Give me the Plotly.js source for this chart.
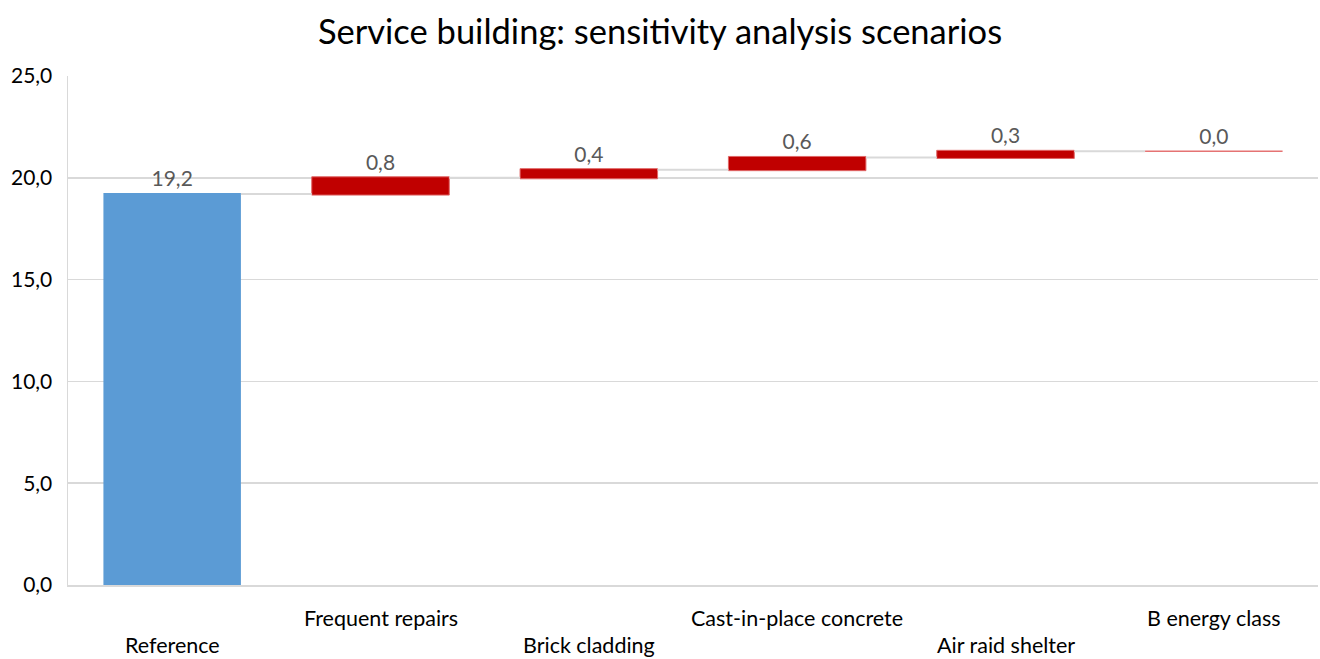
<!DOCTYPE html>
<html>
<head>
<meta charset="utf-8">
<script src="https://cdn.plot.ly/plotly-3.0.1.min.js"></script>
<style>
  html, body { margin: 0; padding: 0; background: #fff; }
  #chart { width: 1320px; height: 659px; }
</style>
</head>
<body>
<div id="chart"></div>
<script>
// Sensitivity scenarios for the service building (waterfall steps)
const categories = [
  "Reference",
  "Frequent repairs",
  "Brick cladding",
  "Cast-in-place concrete",
  "Air raid shelter",
  "B energy class"
];
const values = [19.2, 0.8, 0.4, 0.6, 0.3, 0.0];
const measures = ["absolute", "relative", "relative", "relative", "relative", "relative"];
const yTicks = [0, 5, 10, 15, 20, 25];

const FONT = "Lato, 'Open Sans', sans-serif";
const BAR_WIDTH = 0.66;
const labels = values.map(v => v.toFixed(1).replace(".", ","));

const trace = {
  type: "waterfall",
  x: categories,
  y: values,
  measure: measures,
  text: labels,
  textposition: "outside",
  cliponaxis: false,
  textfont: { family: FONT, size: 21, color: "#595959" },
  width: BAR_WIDTH,
  connector: { mode: "between", line: { color: "#D9D9D9", width: 2 } },
  increasing: { marker: { color: "#C00000", line: { color: "#E06666", width: 1 } } },
  decreasing: { marker: { color: "#C00000", line: { color: "#E06666", width: 1 } } },
  totals: { marker: { color: "#5B9BD5" } },
  hoverinfo: "skip"
};

// Zero-height steps are drawn as a thin flat line at their running total
const zeroX = [], zeroY = [];
let running = 0;
values.forEach((v, i) => {
  running = measures[i] === "absolute" ? v : running + v;
  if (v === 0 && measures[i] === "relative") {
    zeroX.push(i - BAR_WIDTH / 2, i + BAR_WIDTH / 2, null);
    zeroY.push(running, running, null);
  }
});
const zeroTrace = {
  type: "scatter",
  mode: "lines",
  x: zeroX,
  y: zeroY,
  xaxis: "x2",
  yaxis: "y",
  line: { color: "#E57373", width: 1.5 },
  hoverinfo: "skip"
};

// Staggered category labels below the axis
const annotations = categories.map((c, i) => ({
  x: c,
  xref: "x",
  y: 0,
  yref: "paper",
  yanchor: "middle",
  yshift: i % 2 === 0 ? -60 : -33,
  text: c,
  showarrow: false,
  font: { family: FONT, size: 21.5, color: "#000000" }
}));

const layout = {
  width: 1320,
  height: 659,
  margin: { l: 68, r: 2, t: 76, b: 74 },
  paper_bgcolor: "#ffffff",
  plot_bgcolor: "#ffffff",
  separators: ", ",
  showlegend: false,
  title: {
    text: "Service building: sensitivity analysis scenarios",
    font: { family: FONT, size: 34.5, color: "#000000" },
    x: 0.5,
    xanchor: "center",
    y: 0.952,
    yanchor: "middle"
  },
  xaxis: {
    type: "category",
    showticklabels: false,
    ticks: "",
    showgrid: false,
    showline: true,
    linecolor: "#D9D9D9",
    linewidth: 2,
    zeroline: false,
    fixedrange: true
  },
  xaxis2: {
    overlaying: "x",
    range: [-0.5, categories.length - 0.5],
    visible: false,
    fixedrange: true
  },
  yaxis: {
    range: [0, 25],
    tickvals: yTicks,
    tickformat: ".1f",
    ticks: "",
    ticklen: 0,
    showgrid: true,
    gridcolor: "#D9D9D9",
    gridwidth: 1.5,
    showline: true,
    linecolor: "#D9D9D9",
    linewidth: 1.5,
    zeroline: false,
    tickfont: { family: FONT, size: 21, color: "#000000" },
    ticklabelstandoff: 10,
    fixedrange: true
  },
  annotations: annotations
};

Plotly.newPlot("chart", [trace, zeroTrace], layout, { displayModeBar: false, staticPlot: true });
</script>
</body>
</html>
